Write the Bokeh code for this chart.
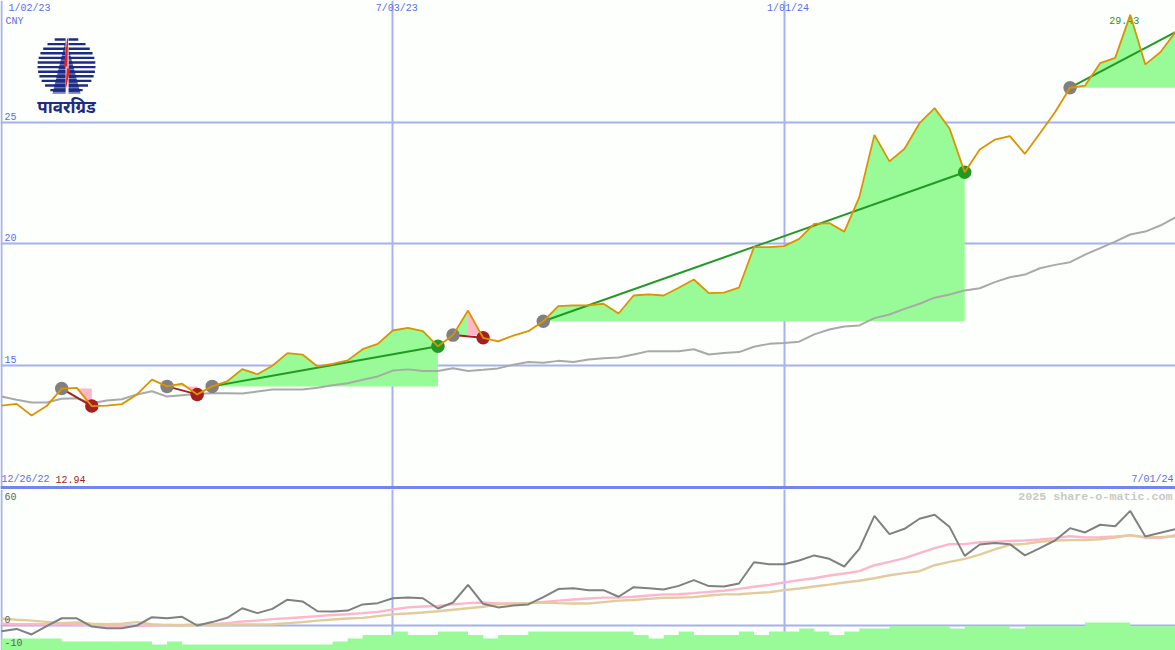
import numpy as np
import pandas as pd
from bokeh.embed import file_html
from bokeh.layouts import column
from bokeh.models import FixedTicker, Grid, Range1d, Span
from bokeh.plotting import figure
from bokeh.resources import INLINE
from bokeh.core.properties import value

dates = pd.date_range("2023-01-02", periods=79, freq="7D")

price = [13.35,13.42,12.94,13.33,14.05,14.08,13.33,13.35,13.41,13.81,14.42,14.14,14.25,13.81,14.14,14.35,14.85,14.64,14.99,15.51,
         15.45,14.96,15.07,15.21,15.67,15.89,16.44,16.55,16.41,15.79,16.25,17.26,16.14,15.99,16.23,16.41,16.82,17.44,17.47,17.47,
         17.54,17.14,17.88,17.93,17.88,18.20,18.54,17.98,18.00,18.20,19.87,19.87,19.91,20.21,20.83,20.86,20.51,21.93,24.49,23.40,
         23.92,24.97,25.59,24.74,22.95,23.89,24.29,24.44,23.71,24.56,25.42,26.43,26.52,27.44,27.66,29.43,27.39,27.89,28.72]
long_ma = [13.72,13.59,13.48,13.48,13.63,13.65,13.45,13.56,13.61,13.81,13.94,13.72,13.78,13.84,13.86,13.86,13.85,13.93,14.01,14.01,
           14.01,14.08,14.19,14.27,14.41,14.55,14.79,14.84,14.77,14.77,14.89,14.77,14.82,14.88,15.03,15.14,15.11,15.19,15.14,15.25,
           15.30,15.33,15.45,15.59,15.59,15.59,15.67,15.45,15.51,15.55,15.77,15.89,15.93,15.98,16.28,16.48,16.60,16.65,16.95,17.10,
           17.33,17.54,17.79,17.92,18.09,18.18,18.43,18.63,18.74,19.00,19.14,19.25,19.56,19.83,20.10,20.39,20.51,20.76,21.09]

osc = [-2.7,-1.6,-4.2,-0.3,3.4,3.4,-0.5,-1.3,-1.3,0,3.9,3.4,4.1,0,1.6,3.6,8.1,5.8,7.8,12.1,
       11.3,6.7,6.6,7.0,9.9,10.5,12.8,13.1,12.8,8.0,10.8,19.1,10.2,8.5,9.4,9.9,13.3,17.1,17.5,16.6,
       16.6,13.5,18.0,17.5,16.9,18.6,21.3,18.5,18.3,19.7,29.7,28.8,28.8,30.5,32.9,31.3,27.7,36.0,51.5,42.9,
       45.4,50.1,52.0,46.2,32.7,38.0,38.7,38.2,32.9,36.3,39.9,45.7,43.7,47.3,46.6,53.8,41.8,43.5,45.2]
osc_pink = [.8,.6,.6,.6,.6,.5,.2,-.2,-.2,-.2,0,.2,.3,.5,.6,1.1,1.9,2.3,3.0,3.4,3.9,4.4,4.9,5.3,5.8,6.4,7.5,
            8.5,8.9,9.2,9.9,10.5,10.8,10.3,10.3,10.5,11.1,11.7,12.2,12.7,13.1,13.1,13.5,14.1,14.6,14.7,15.2,15.8,16.3,17.2,18.2,19.1,20.2,21.3,
            22.2,23.5,24.4,25.5,28.3,29.9,31.6,34.0,36.3,38.2,38.2,39.1,39.4,39.7,39.9,40.4,41.0,41.9,41.3,41.5,41.8,42.3,41.3,41.0,42.4]
osc_tan = [3.3,2.7,2.3,1.7,1.1,1.4,.8,.6,.9,1.6,.6,.2,0,.2,.2,.3,.5,.5,.6,1.1,1.6,2.3,2.8,3.3,3.6,4.4,5.2,
           5.6,6.1,6.7,7.4,8.1,8.8,9.9,10.2,10.5,10.8,10.5,10.3,10.3,11.0,11.7,12.0,12.5,13.0,13.1,13.3,14.1,14.6,14.7,15.2,15.6,16.6,17.4,
           18.3,19.2,20.2,21.0,22.2,23.6,24.6,25.5,28.3,29.9,31.3,33.3,35.7,37.9,38.3,39.3,39.9,40.1,40.1,40.5,41.3,42.4,41.5,41.5,41.9]
hist = [-6.1,-6.1,-6.1,-6.1,-7.5,-7.5,-7.5,-7.5,-7.5,-7.5,-8.9,-7.5,-8.9,-8.9,-8.9,-8.9,-8.9,-8.9,-8.9,-8.9,
        -8.9,-8.9,-7.5,-6.1,-4.5,-4.5,-2.8,-4.5,-4.5,-2.8,-2.8,-4.5,-6.1,-4.5,-4.5,-2.8,-2.8,-2.8,-2.8,-2.8,
        -2.8,-2.8,-4.5,-6.1,-4.5,-2.8,-4.5,-4.5,-4.5,-2.8,-4.5,-2.8,-2.8,-1.4,-2.8,-4.5,-2.8,-1.4,-1.4,-0.4,
        -0.4,-0.4,-0.4,-1.4,-0.4,-0.4,-0.4,-1.4,-0.4,-0.4,-0.4,-0.4,1.4,1.4,1.4,-0.4,-0.4,-0.4,-0.4]

trend_up = [(14, 29), (36, 64), (71, 78)]
trend_down = [(4, 6), (11, 13), (30, 32)]
green_fills = [(11, 12, 11), (14, 29, 14), (30, 31, 30), (36, 64, 36), (71, 78, 71)]
pink_fills = [(4, 6, 4), (12, 13, 11), (31, 32, 30)]
start_weeks = [4, 11, 14, 30, 36, 71]
red_weeks = [6, 13, 32]
green_weeks = [29, 64]

price_ticks = [15, 20, 25]
osc_ticks = [60, 0, -10]
date_ticks = ["2023-01-02", "2023-07-03", "2024-01-01"]
date_labels = ["1/02/23", "7/03/23", "1/01/24"]

BG = "#fdfffd"
GRID = "#a6b2f0"
BLUE = "#5a6cf0"
GREEN = "#229922"
RED = "#a51f1f"
ORANGE = "#dd9200"
FILL_G = "#98fb98"
FILL_P = "#ffb6c8"
NAVY = "#1c2c84"
MONO = value("Liberation Mono")

WEEK = 7 * 86400000
t0 = dates[0].timestamp() * 1000
xstart = t0 - WEEK * 1 / 15.05
xend = t0 + WEEK * 1174 / 15.05
H1, H2 = 489, 161


def py1(px):
    return 30.02 - px / 24.3


def py2(px):
    return (625 - px) / 2.13


def pxx(px):
    return t0 + WEEK * (px - 1) / 15.05


def new_fig(h, y0, y1):
    f = figure(width=1175, height=h, output_backend="svg", toolbar_location=None,
               x_axis_type=None, y_axis_type=None, min_border=0, outline_line_color=None,
               background_fill_color=BG, border_fill_color=BG,
               x_range=Range1d(xstart, xend), y_range=Range1d(y0, y1))
    f.grid.visible = False
    return f


d_ticks = [pd.Timestamp(d).timestamp() * 1000 for d in date_ticks]

# ---------- price panel ----------
p = new_fig(H1, py1(H1), py1(0))
p.add_layout(Grid(dimension=0, ticker=FixedTicker(ticks=d_ticks), grid_line_color=GRID,
                  grid_line_width=2, bounds=(py1(H1), py1(16))))
p.add_layout(Grid(dimension=1, ticker=FixedTicker(ticks=price_ticks), grid_line_color=GRID, grid_line_width=2))
p.add_layout(Span(location=py1(487), dimension="width", line_color="#7486ee", line_width=3))

pr = np.array(price)
for a, b, s in green_fills:
    p.varea(x=dates[a:b + 1], y1=pr[a:b + 1], y2=np.full(b + 1 - a, pr[s]), fill_color=FILL_G)
for a, b, s in pink_fills:
    p.varea(x=dates[a:b + 1], y1=pr[a:b + 1], y2=np.full(b + 1 - a, pr[s]), fill_color=FILL_P)

p.line(dates, long_ma, line_color="#a9a9a9", line_width=2)

# logo
cx, cy, r = 66, 65.5, 29
p.patch([pxx(v) for v in (65.5, 52, 80)], [py1(v) for v in (38, 93, 93)], fill_color=NAVY, line_color=None)
for ry in np.arange(39, 94, 4.6):
    hw = np.sqrt(max(r * r - (ry - cy) ** 2, 0))
    p.segment(pxx(cx - hw), py1(ry), pxx(cx + hw), py1(ry), line_color=NAVY, line_width=2.4)
    p.segment(pxx(cx - hw), py1(ry + 2.3), pxx(cx + hw), py1(ry + 2.3), line_color="#ffffff", line_width=0.9, line_alpha=0.55)
p.segment(pxx(66.6), py1(36), pxx(66.6), py1(94), line_color="#f4f4ff", line_width=3)
p.patch([pxx(v) for v in (66.5, 63.5, 66.3, 64.8, 69.8, 67, 67.6)], [py1(v) for v in (38, 66, 66, 91, 68, 68, 38)],
        fill_color="#e82020", line_color=None)
p.text([pxx(66)], [py1(106)], text=["पावरग्रिड"], text_font=value("Noto Sans"), text_font_size="17px",
       text_font_style="bold", text_color=NAVY, text_align="center", text_baseline="middle")

p.text([dates[0]] * 3, price_ticks, text=[str(t) for t in price_ticks], text_font=MONO, text_font_size="10px",
       text_color=BLUE, x_offset=3, y_offset=-6, text_baseline="middle")
p.text([pxx(8)], [py1(8)], text=[date_labels[0]], text_font=MONO, text_font_size="10px", text_color=BLUE, text_baseline="middle")
p.text([pd.Timestamp(d) for d in date_ticks[1:]], [py1(8)] * 2, text=date_labels[1:], text_font=MONO,
       text_font_size="10px", text_color=BLUE, text_baseline="middle", x_offset=-17)
p.text([pxx(5)], [py1(21)], text=["CNY"], text_font=MONO, text_font_size="10px", text_color=BLUE, text_baseline="middle")
p.text([pxx(1)], [py1(479)], text=["12/26/22"], text_font=MONO, text_font_size="10px", text_color=BLUE, text_baseline="middle")
p.text([pxx(55)], [py1(479)], text=["%.2f" % min(price)], text_font=MONO, text_font_size="10px", text_color=RED, text_baseline="middle")
p.text([dates[78]], [py1(479)], text=["7/01/24"], text_font=MONO, text_font_size="10px", text_color=BLUE,
       text_baseline="middle", text_align="right", x_offset=-2)
p.text([dates[75]], [max(price)], text=["%.2f" % max(price)], text_font=MONO, text_font_size="10px", text_color=GREEN,
       text_baseline="middle", text_align="center", x_offset=-6, y_offset=6)

for a, b in trend_up:
    p.line([dates[a], dates[b]], [pr[a], pr[b]], line_color=GREEN, line_width=2)
for a, b in trend_down:
    p.line([dates[a], dates[b]], [pr[a], pr[b]], line_color=RED, line_width=2)
p.scatter(dates[start_weeks], pr[start_weeks], size=13.5, fill_color="#808080", line_color=None)
p.scatter(dates[red_weeks], pr[red_weeks], size=13.5, fill_color=RED, line_color=None)
p.scatter(dates[green_weeks], pr[green_weeks], size=13.5, fill_color=GREEN, line_color=None)
p.line(dates, price, line_color=ORANGE, line_width=1.8)

# ---------- oscillator panel ----------
q = new_fig(H2, (625 - 650) / 2.13, (625 - H1) / 2.13)
q.add_layout(Grid(dimension=0, ticker=FixedTicker(ticks=d_ticks), grid_line_color=GRID, grid_line_width=2,
                  bounds=(0, 70)))
q.add_layout(Span(location=0, dimension="width", line_color=GRID, line_width=2, level="underlay"))
q.varea_step(x=dates, y1=np.full(79, -20.0), y2=hist, step_mode="after", fill_color=FILL_G)
q.line(dates, osc_pink, line_color="#ffb6cc", line_width=2.4)
q.line(dates, osc_tan, line_color="#e2cb9c", line_width=2.4)
q.line(dates, osc, line_color="#808080", line_width=2)
q.text([dates[0]] * 3, osc_ticks, text=[str(t) for t in osc_ticks], text_font=MONO, text_font_size="10px",
       text_color="#606060", x_offset=3, y_offset=[-1, -6, -4], text_baseline="middle")
q.text([pxx(1172)], [py2(496)], text=["2025 share-o-matic.com"], text_font=MONO, text_font_size="11.7px",
       text_font_style="bold", text_color="#c8c8c8", text_align="right", text_baseline="middle")

layout = column(p, q, spacing=0)
open("out.html", "w").write(file_html(layout, INLINE))
